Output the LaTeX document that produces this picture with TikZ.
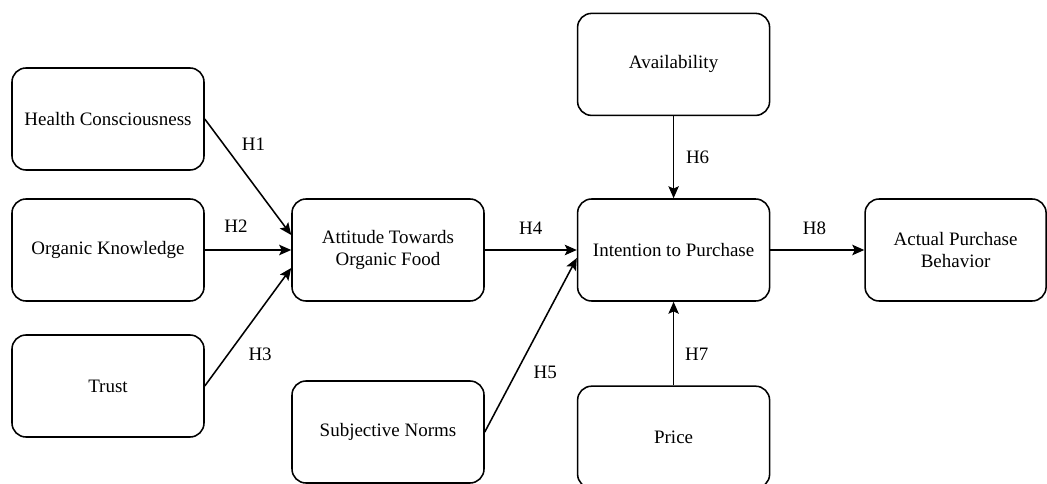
\documentclass[tikz,border=0pt]{standalone}
\usepackage{fontspec}
\setmainfont{Liberation Serif}
\usetikzlibrary{positioning, arrows.meta}
\tikzstyle{construct} = [rectangle,
rounded corners=0.35cm,
minimum width=4.8cm,
minimum height=2.55cm,
align=center,
line width=1.1pt,
draw=black,
fill=white]
\tikzstyle{hyp} = [inner sep=1pt]

\begin{document}
\begin{tikzpicture}[node distance=7cm, on grid, >={Stealth[length=0.3cm,width=0.26cm,inset=0.06cm]}]
\tikzstyle{every node}=[font=\fontsize{13.5}{16.3}\selectfont]
\useasboundingbox (0,0) rectangle (26.175,-12.1);
\node (hc) [construct] at (2.7,-2.975) {Health Consciousness};
\node (ok) [construct, below=3.275cm of hc] {Organic Knowledge};
\node (tr) [construct, below=3.4cm of ok] {Trust};
\node (att) [construct, right=of ok] {Attitude Towards\\Organic Food};
\node (sn) [construct, below=4.55cm of att] {Subjective Norms};
\node (itp) [construct, right=7.14cm of att] {Intention to Purchase};
\node (av) [construct, above=4.64cm of itp] {Availability};
\node (pr) [construct, below=4.68cm of itp] {Price};
\node (apb) [construct, right=7.05cm of itp, minimum width=4.525cm] {Actual Purchase\\Behavior};

\draw [->, line width=1.1pt] (hc.east) -- node (h1) [hyp, pos=0.22, xshift=0.74cm] {H1} ([yshift=0.375cm]att.west);
\draw [->, line width=1.1pt] (ok.east) -- node (h2) [hyp, pos=0.36, yshift=0.6cm] {H2} (att.west);
\draw [->, line width=1.1pt] (tr.east) -- node (h3) [hyp, pos=0.27, xshift=0.8cm] {H3} ([yshift=-0.45cm]att.west);
\draw [->, line width=1.1pt] (att.east) -- node (h4) [hyp, pos=0.5, yshift=0.55cm] {H4} (itp.west);
\draw [->, line width=1.1pt] (sn.east) -- node (h5) [hyp, pos=0.34, xshift=0.73cm] {H5} ([yshift=-0.2cm]itp.west);
\draw [->, line width=1.1pt] (av.south) -- node (h6) [hyp, pos=0.5, xshift=0.6cm] {H6} (itp.north);
\draw [->, line width=1.1pt] (pr.north) -- node (h7) [hyp, pos=0.37, xshift=0.58cm] {H7} (itp.south);
\draw [->, line width=1.1pt] (itp.east) -- node (h8) [hyp, pos=0.47, yshift=0.55cm] {H8} (apb.west);
\end{tikzpicture}
\end{document}
